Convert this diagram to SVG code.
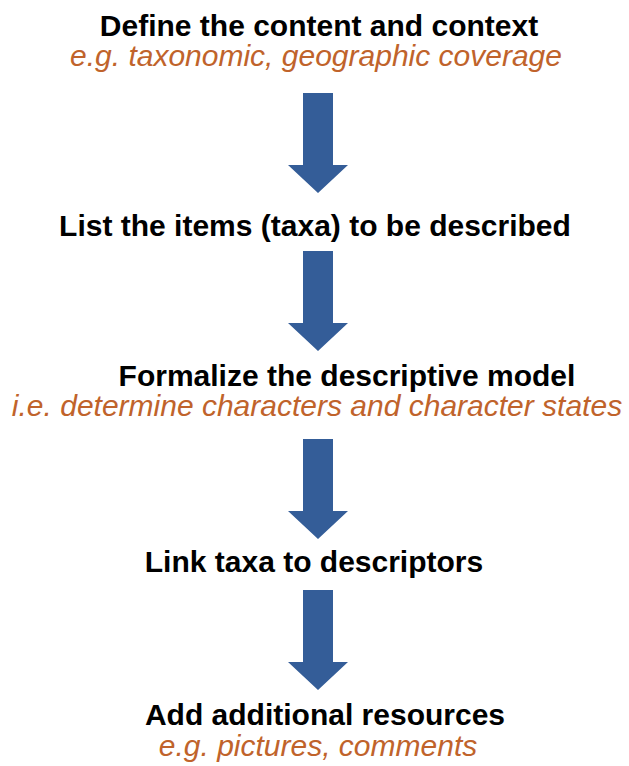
<svg xmlns="http://www.w3.org/2000/svg" width="629" height="766" viewBox="0 0 629 766">
<style>
.t{font-family:"Liberation Sans",Arial,sans-serif;font-size:30px;font-weight:bold;fill:#000;text-anchor:middle}
.s{font-family:"Liberation Sans",Arial,sans-serif;font-size:30px;font-style:italic;fill:#C0632B;text-anchor:middle}
.a{fill:#345D98}
</style>
<defs>
<path id="arr" d="M303,0 H333 V72 H348 L318,100 L288,72 H303 Z"/>
</defs>
<rect width="629" height="766" fill="#fff"/>
<g id="n1"><text class="t" x="319" y="36">Define the content and context</text><text class="s" x="316" y="66">e.g. taxonomic, geographic coverage</text></g>
<g id="n2"><text class="t" x="315" y="236">List the items (taxa) to be described</text></g>
<g id="n3"><text class="t" x="347" y="386">Formalize the descriptive model</text><text class="s" x="317" y="416">i.e. determine characters and character states</text></g>
<g id="n4"><text class="t" x="314" y="572">Link taxa to descriptors</text></g>
<g id="n5"><text class="t" x="325" y="725">Add additional resources</text><text class="s" x="318" y="756">e.g. pictures, comments</text></g>
<g id="connectors" class="a">
<use href="#arr" y="93"/>
<use href="#arr" y="251"/>
<use href="#arr" y="439"/>
<use href="#arr" y="590"/>
</g>
</svg>
